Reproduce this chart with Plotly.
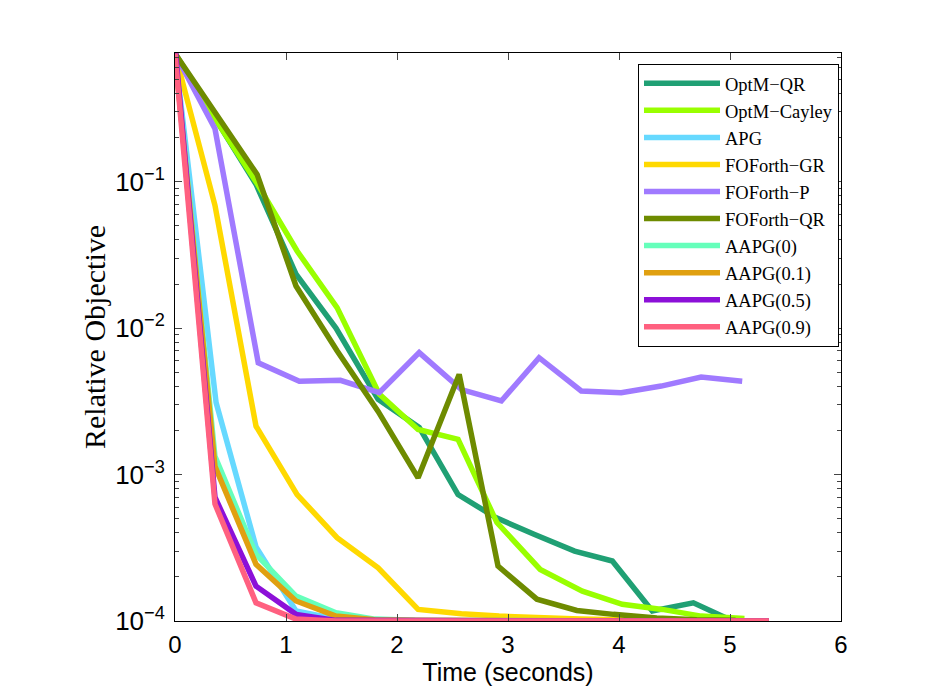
import plotly.graph_objects as go

names = ["OptM\u2212QR", "OptM\u2212Cayley", "APG", "FOForth\u2212GR", "FOForth\u2212P",
         "FOForth\u2212QR", "AAPG(0)", "AAPG(0.1)", "AAPG(0.5)", "AAPG(0.9)"]
colors = ["#20a074", "#99ff00", "#66d9ff", "#ffd900", "#a07aff",
          "#6e8b00", "#66ffbb", "#e0a010", "#8c10d8", "#ff6080"]

t_optm_qr = [0, 0.37, 0.73, 1.09, 1.45, 1.83, 2.20, 2.55, 2.89, 3.24, 3.60, 3.94, 4.30, 4.67, 5.00]
y_optm_qr = [0.75, 0.26, 0.096, 0.0234, 0.0100, 0.00326, 0.0021, 0.00073, 0.000508, 0.00039,
             0.00030, 0.000257, 0.000117, 0.000133, 0.000102]

t_optm_cay = [0, 0.36, 0.73, 1.10, 1.46, 1.84, 2.19, 2.55, 2.90, 3.29, 3.67, 4.03, 4.39, 4.74, 5.13]
y_optm_cay = [0.75, 0.27, 0.10, 0.0336, 0.0138, 0.00355, 0.00203, 0.00174, 0.00047, 0.000225,
              0.00016, 0.00013, 0.00012, 0.000108, 0.000104]

t_apg = [0, 0.37, 0.73, 1.09, 1.46, 1.82, 2.19, 2.55, 2.92, 3.28, 3.65, 4.01, 4.37, 4.74, 5.10]
y_apg = [0.75, 0.0031, 0.00032, 0.000117, 0.000103, 0.000101, 0.0001005, 0.0001003, 0.0001002,
         0.0001001, 0.0001001, 0.0001, 0.0001, 0.0001, 0.0001]

t_gr = [0, 0.36, 0.73, 1.10, 1.46, 1.83, 2.19, 2.58, 2.92, 3.28, 3.65, 4.01, 4.37, 4.74, 5.10]
y_gr = [0.75, 0.069, 0.00214, 0.00073, 0.000371, 0.000231, 0.00012, 0.000112, 0.000108,
        0.000105, 0.000103, 0.000102, 0.000101, 0.000101, 0.0001]

t_p = [0, 0.36, 0.75, 1.12, 1.49, 1.84, 2.20, 2.58, 2.94, 3.28, 3.66, 4.02, 4.38, 4.74, 5.11]
y_p = [0.75, 0.23, 0.0058, 0.00434, 0.00440, 0.00362, 0.0068, 0.0038, 0.00318, 0.00628,
       0.00372, 0.00362, 0.00402, 0.00463, 0.00434]

t_fqr = [0, 0.37, 0.74, 1.09, 1.46, 1.83, 2.19, 2.56, 2.91, 3.26, 3.62, 3.95, 4.34, 4.70, 5.05]
y_fqr = [0.75, 0.295, 0.112, 0.0194, 0.0070, 0.0027, 0.00095, 0.00483, 0.000237, 0.000141,
         0.000118, 0.000111, 0.000105, 0.000102, 0.000101]

t_aapg = [0, 0.36, 0.73, 1.09, 1.45, 1.80, 2.16, 2.52, 2.88, 3.24, 3.60, 3.96, 4.32, 4.68, 5.00, 5.35]
y_aapg0 = [0.75, 0.00133, 0.000285, 0.000148, 0.000114, 0.000103, 0.000101, 0.0001005, 0.0001003,
           0.0001002, 0.0001001, 0.0001, 0.0001, 0.0001, 0.0001, 0.0001]
y_aapg01 = [0.75, 0.00114, 0.000244, 0.000137, 0.000108, 0.000102, 0.000101, 0.0001005, 0.0001003,
            0.0001002, 0.0001001, 0.0001, 0.0001, 0.0001, 0.0001, 0.0001]
y_aapg05 = [0.85, 0.00070, 0.000173, 0.000111, 0.000101, 0.0001005, 0.0001003, 0.0001002, 0.0001001,
            0.0001, 0.0001, 0.0001, 0.0001, 0.0001, 0.0001, 0.0001]
y_aapg09 = [0.75, 0.00063, 0.000133, 0.000103, 0.0001, 0.0001, 0.0001, 0.0001, 0.0001,
            0.0001, 0.0001, 0.0001, 0.0001, 0.0001, 0.0001, 0.0001]

series = [
    (t_optm_qr, y_optm_qr), (t_optm_cay, y_optm_cay), (t_apg, y_apg), (t_gr, y_gr),
    (t_p, y_p), (t_fqr, y_fqr), (t_aapg, y_aapg0), (t_aapg, y_aapg01),
    (t_aapg, y_aapg05), (t_aapg, y_aapg09),
]

x_ticks = [0, 1, 2, 3, 4, 5, 6]
y_ticks = [1e-4, 1e-3, 1e-2, 1e-1]
y_tick_text = ["10<sup>\u22124</sup>", "10<sup>\u22123</sup>", "10<sup>\u22122</sup>", "10<sup>\u22121</sup>"]

fig = go.Figure()
for name, color, (t, y) in zip(names, colors, series):
    fig.add_trace(go.Scatter(x=t, y=y, mode="lines", name=name,
                             line=dict(color=color, width=5.5)))

fig.update_layout(
    width=930, height=700,
    paper_bgcolor="white", plot_bgcolor="white",
    margin=dict(l=167, r=97, t=45, b=87),
    font=dict(family="Liberation Sans, Arial", size=24, color="black"),
    showlegend=True,
    legend=dict(
        x=0.997, y=0.981, xanchor="right", yanchor="top",
        bgcolor="white", bordercolor="black", borderwidth=1,
        font=dict(family="Liberation Serif, Times New Roman", size=18.5, color="black"),
        itemwidth=76, tracegroupgap=0,
    ),
    xaxis=dict(
        range=[0, 6], tickvals=x_ticks, ticks="inside", ticklen=7, tickwidth=1,
        showline=True, linecolor="black", linewidth=1, mirror="ticks",
        showgrid=False, zeroline=False, ticklabelstandoff=2,
        title=dict(text="Time (seconds)", font=dict(size=25), standoff=0),
        tickfont=dict(size=24),
    ),
    yaxis=dict(
        type="log", range=[-4, -0.1215], tickvals=y_ticks, ticktext=y_tick_text,
        ticks="inside", ticklen=7, tickwidth=1,
        showline=True, linecolor="black", linewidth=1, mirror="allticks",
        showgrid=False, zeroline=False, ticklabelstandoff=4,
        minor=dict(ticks="inside", ticklen=4, dtick="D1", showgrid=False),
        title=dict(text="Relative Objective",
                   font=dict(family="Liberation Serif, Times New Roman", size=30), standoff=0),
        tickfont=dict(size=26),
    ),
)

fig.write_html("out.html")
